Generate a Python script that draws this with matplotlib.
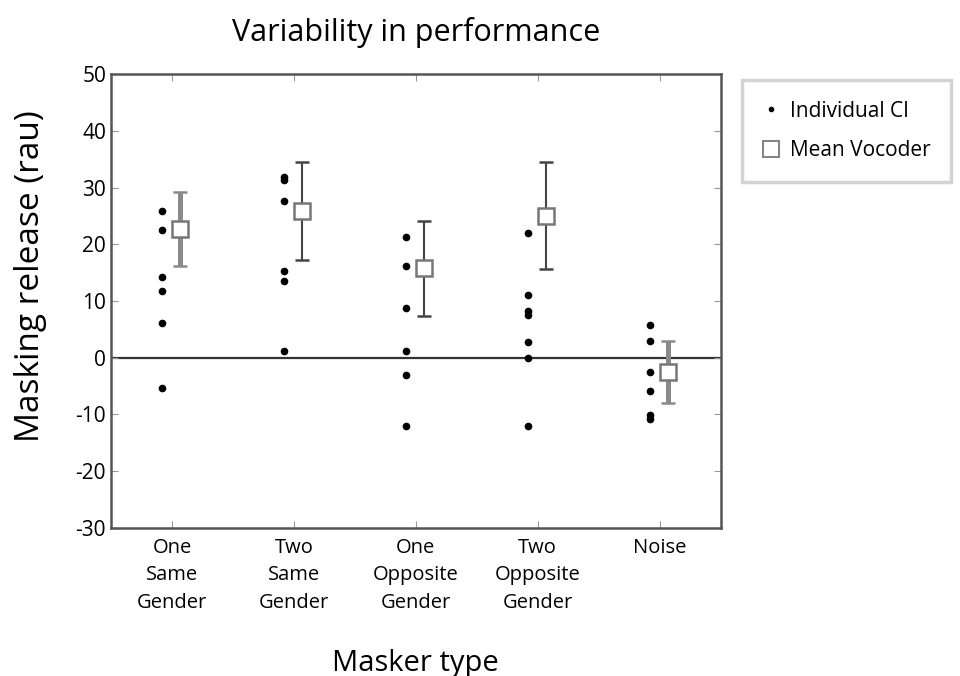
import numpy as np
import matplotlib.pyplot as plt
from matplotlib.lines import Line2D

plt.rcParams['font.family'] = ['Open Sans', 'DejaVu Sans']
plt.rcParams['axes.unicode_minus'] = False

# categorias del eje x
categorias = ['One\nSame\nGender', 'Two\nSame\nGender', 'One\nOpposite\nGender',
              'Two\nOpposite\nGender', 'Noise']

# valores individuales CI (rau)
ci_one_same = [25.8, 22.5, 14.3, 11.7, 6.2, -5.3]
ci_two_same = [31.9, 31.3, 27.6, 15.2, 13.5, 1.1]
ci_one_opp = [21.2, 16.1, 8.7, 1.1, -3.0, -12.0]
ci_two_opp = [21.9, 11.0, 8.3, 7.6, 2.8, 0.0, -12.0]
ci_noise = [5.7, 3.0, -2.5, -5.8, -10.1, -10.8]
ci_todos = [ci_one_same, ci_two_same, ci_one_opp, ci_two_opp, ci_noise]

# media vocoder y barras de error
media_voc = [22.7, 25.8, 15.8, 25.0, -2.5]
err_sup = [29.2, 34.5, 24.1, 34.5, 3.0]
err_inf = [16.1, 17.2, 7.4, 15.6, -8.0]

fig = plt.figure(figsize=(9.6, 6.76), dpi=100)
ax = fig.add_axes([0.1156, 0.219, 0.635, 0.6715])

x = np.arange(1, len(categorias) + 1)

ax.axhline(0, color='#333333', lw=1.6, zorder=1)

for i, vals in enumerate(ci_todos):
    ax.plot([x[i] - 0.08] * len(vals), vals, 'o', color='black', ms=4.5, zorder=3)

for i in range(len(x)):
    grueso = i in (0, 4)
    col = '#8a8a8a' if grueso else '#444444'
    lw = 3.6 if grueso else 1.5
    m = media_voc[i]
    ax.errorbar(x[i] + 0.07, m, yerr=[[m - err_inf[i]], [err_sup[i] - m]],
                fmt='none', ecolor=col, elinewidth=lw, capsize=5, capthick=1.8,
                zorder=2)
    ax.plot(x[i] + 0.07, m, 's', ms=12, mfc='white', mec='#777777', mew=1.8,
            zorder=4)

ax.set_xlim(0.5, 5.5)
ax.set_ylim(-30, 50)
ax.set_yticks(np.arange(-30, 51, 10))
ax.set_xticks(x)
ax.set_xticklabels(categorias, fontsize=14.5, linespacing=1.5)
ax.tick_params(axis='y', labelsize=15)
ax.tick_params(axis='x', pad=7)
ax.tick_params(direction='in', length=5, color='#999999', top=True, right=True)

for s in ax.spines.values():
    s.set_color('#555555')
    s.set_linewidth(1.8)

ax.set_title('Variability in performance', fontsize=22, pad=24)
ax.set_xlabel('Masker type', fontsize=21, labelpad=26)
ax.set_ylabel('Masking release (rau)', fontsize=24)
ax.yaxis.set_label_coords(-0.105, 0.555)

handles = [
    Line2D([], [], ls='none', marker='o', ms=3, color='black'),
    Line2D([], [], ls='none', marker='s', ms=11, mfc='white', mec='#777777', mew=1.3),
]
leg = fig.legend(handles, ['Individual CI', 'Mean Vocoder'], loc='upper left',
                 bbox_to_anchor=(0.773, 0.882), fontsize=15, frameon=True,
                 fancybox=False, handletextpad=0.5, handlelength=0.8,
                 borderpad=1.0, labelspacing=0.9, borderaxespad=0)
leg.get_frame().set_edgecolor('#c8c8c8')
leg.get_frame().set_linewidth(2.5)

fig.savefig('out.png', dpi=100)
